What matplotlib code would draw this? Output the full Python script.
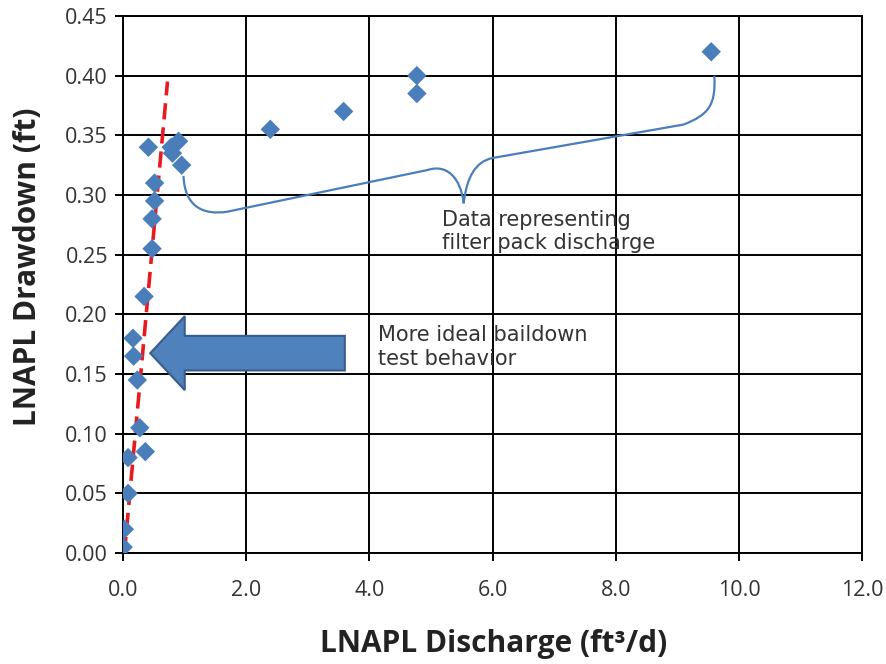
import matplotlib
matplotlib.use('Agg')
import matplotlib.pyplot as plt
from matplotlib.path import Path
from matplotlib.patches import PathPatch, FancyArrow
import numpy as np

plt.rcParams['font.family'] = ['Open Sans', 'DejaVu Sans']

# baildown test: discharge (ft3/d) vs drawdown (ft)
discharge = [0.00, 0.02, 0.08, 0.08, 0.36, 0.27, 0.23, 0.17, 0.16, 0.34,
             0.47, 0.47, 0.51, 0.51, 0.41, 0.78, 0.80, 0.90, 0.95,
             2.39, 3.58, 4.77, 4.77, 9.55]
drawdown = [0.005, 0.02, 0.05, 0.08, 0.085, 0.105, 0.145, 0.165, 0.18, 0.215,
            0.255, 0.28, 0.295, 0.31, 0.34, 0.34, 0.335, 0.345, 0.325,
            0.355, 0.37, 0.385, 0.40, 0.42]

# ideal baildown trend line
trend_q = [0.02, 0.72]
trend_s = [0.0, 0.395]

xticks = np.arange(0, 12.1, 2.0)
yticks = np.arange(0, 0.451, 0.05)

blue = '#4A7EBB'
txt = '#333333'

fig = plt.figure(figsize=(8.86, 6.64), dpi=100)
ax = fig.add_axes([0.139, 0.167, 0.834, 0.809])

ax.plot(trend_q, trend_s, color='#E8191F', lw=2.6, ls=(0, (4.5, 2.2)), zorder=3)
ax.scatter(discharge, drawdown, marker='D', s=98, color=blue, edgecolors='none', zorder=4)

# arrow pointing at the steep early data
arr = FancyArrow(3.6, 0.1675, -3.16, 0, width=0.029, head_width=0.062,
                 head_length=0.56, length_includes_head=True,
                 facecolor='#4F81BD', edgecolor='#385D8A', lw=1.5, zorder=5)
ax.add_patch(arr)
ax.text(4.14, 0.173, 'More ideal baildown\ntest behavior', fontsize=15,
        family='DejaVu Sans', color=txt, va='center', ha='left',
        linespacing=1.25, zorder=6)

# curly brace over the filter pack points
verts = [(0.98, 0.316), (1.0, 0.290), (1.3, 0.283), (1.69, 0.286),
         (4.95, 0.321),
         (5.25, 0.326), (5.48, 0.315), (5.53, 0.293),
         (5.58, 0.315), (5.72, 0.328), (6.00, 0.331),
         (9.10, 0.359),
         (9.50, 0.367), (9.63, 0.375), (9.60, 0.400)]
codes = [Path.MOVETO, Path.CURVE4, Path.CURVE4, Path.CURVE4,
         Path.LINETO,
         Path.CURVE4, Path.CURVE4, Path.CURVE4,
         Path.CURVE4, Path.CURVE4, Path.CURVE4,
         Path.LINETO,
         Path.CURVE4, Path.CURVE4, Path.CURVE4]
ax.add_patch(PathPatch(Path(verts, codes), facecolor='none', edgecolor=blue,
                       lw=1.6, zorder=5))
ax.text(5.17, 0.2695, 'Data representing\nfilter pack discharge', fontsize=15,
        family='DejaVu Sans', color=txt, va='center', ha='left',
        linespacing=1.2, zorder=6)

ax.set_xlim(0, 12)
ax.set_ylim(0, 0.45)
ax.set_xticks(xticks)
ax.set_yticks(yticks)
ax.set_xticklabels(['%.1f' % v for v in xticks])
ax.set_yticklabels(['%.2f' % v for v in yticks])
ax.grid(True, color='black', lw=1.4)
ax.set_axisbelow(True)
for s in ax.spines.values():
    s.set_color('black')
    s.set_linewidth(1.4)
ax.tick_params(axis='both', colors='black', labelcolor=txt, labelsize=15.5,
               length=6, width=1.4, direction='out')
ax.tick_params(axis='x', pad=13)
ax.tick_params(axis='y', pad=5)

ax.set_xlabel('LNAPL Discharge (ft³/d)', fontsize=21.5, fontweight='bold',
              color='#222222')
ax.set_ylabel('LNAPL Drawdown (ft)', fontsize=21.5, fontweight='bold',
              color='#222222')
ax.xaxis.set_label_coords(0.502, -0.141)
ax.yaxis.set_label_coords(-0.108, 0.534)

fig.savefig('out.png', dpi=100)
